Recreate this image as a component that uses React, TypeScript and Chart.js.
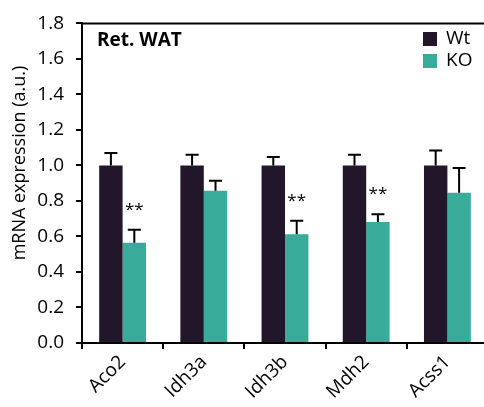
import React, { useEffect, useRef } from "react";
import { Chart, registerables } from "chart.js";
Chart.register(...registerables);

const categories = ["Aco2", "Idh3a", "Idh3b", "Mdh2", "Acss1"];
const wtValues = [1.0, 1.0, 1.0, 1.0, 1.0];
const wtErrors = [0.07, 0.06, 0.048, 0.06, 0.084];
const koValues = [0.565, 0.858, 0.612, 0.681, 0.846];
const koErrors = [0.073, 0.056, 0.076, 0.044, 0.14];
const koSignificance = ["**", "", "**", "**", ""];
const seriesNames = ["Wt", "KO"];
const yMin = 0;
const yMax = 1.8;
const yStep = 0.2;
const panelTitle = "Ret. WAT";
const yAxisTitle = "mRNA expression (a.u.)";

const WT_COLOR = "#22172a";
const KO_COLOR = "#38ab9b";
const FONT = "'Open Sans', sans-serif";

export default function App() {
  const ref = useRef<HTMLCanvasElement>(null);
  useEffect(() => {
    document.body.style.margin = "0";
    document.body.style.overflow = "hidden";
    const errs = [wtErrors, koErrors];
    const overlay = {
      id: "overlay",
      afterDatasetsDraw(chart: any) {
        const ctx = chart.ctx;
        const y = chart.scales.y;
        const area = chart.chartArea;
        ctx.save();
        // error bars
        chart.data.datasets.forEach((ds: any, di: number) => {
          const meta = chart.getDatasetMeta(di);
          meta.data.forEach((el: any, i: number) => {
            const v = ds.data[i];
            const top = y.getPixelForValue(v + errs[di][i]);
            ctx.strokeStyle = "#000";
            ctx.lineWidth = 2;
            ctx.beginPath();
            ctx.moveTo(el.x, el.y);
            ctx.lineTo(el.x, top);
            ctx.moveTo(el.x - 6.5, top);
            ctx.lineTo(el.x + 6.5, top);
            ctx.stroke();
            if (di === 1 && koSignificance[i]) {
              ctx.fillStyle = "#000";
              ctx.font = `17px ${FONT}`;
              ctx.textAlign = "center";
              ctx.textBaseline = "middle";
              ctx.fillText(koSignificance[i], el.x, top - 20);
            }
          });
        });
        // top border
        ctx.strokeStyle = "#000";
        ctx.lineWidth = 2;
        ctx.beginPath();
        ctx.moveTo(area.left - 1, area.top);
        ctx.lineTo(chart.width, area.top);
        ctx.stroke();
        // y axis title
        ctx.save();
        ctx.translate(20, 163);
        ctx.rotate(-Math.PI / 2);
        ctx.fillStyle = "#000";
        ctx.font = `18px ${FONT}`;
        ctx.textAlign = "center";
        ctx.textBaseline = "middle";
        ctx.fillText(yAxisTitle, 0, 0);
        ctx.restore();
        // panel title
        ctx.fillStyle = "#000";
        ctx.font = `bold 19px ${FONT}`;
        ctx.textAlign = "left";
        ctx.textBaseline = "alphabetic";
        ctx.fillText(panelTitle, 97, 46);
        // legend
        const colors = [WT_COLOR, KO_COLOR];
        seriesNames.forEach((name, i) => {
          const ly = 32 + i * 22;
          ctx.fillStyle = colors[i];
          ctx.fillRect(423, ly, 14, 14);
          ctx.fillStyle = "#000";
          ctx.font = `19px ${FONT}`;
          ctx.textBaseline = "middle";
          ctx.fillText(name, 446, ly + 7);
        });
        ctx.restore();
      },
    };
    const chart = new Chart(ref.current!, {
      type: "bar",
      data: {
        labels: categories,
        datasets: [
          { label: seriesNames[0], data: wtValues, backgroundColor: WT_COLOR },
          { label: seriesNames[1], data: koValues, backgroundColor: KO_COLOR },
        ],
      },
      options: {
        animation: false,
        responsive: false,
        events: [],
        layout: { padding: { top: 15, right: 4, left: 0, bottom: 0 } },
        datasets: { bar: { categoryPercentage: 0.577, barPercentage: 1.0 } },
        plugins: { legend: { display: false }, tooltip: { enabled: false } },
        scales: {
          x: {
            afterFit: (s: any) => { s.height = 64; },
            grid: {
              offset: true,
              drawOnChartArea: false,
              drawTicks: true,
              tickLength: 6,
              color: "#000",
              lineWidth: 2,
            },
            border: { display: true, color: "#000", width: 2 },
            ticks: {
              autoSkip: false,
              maxRotation: 45,
              minRotation: 45,
              color: "#000",
              padding: 2,
              font: { family: FONT, size: 19 },
            },
          },
          y: {
            min: yMin,
            max: yMax,
            afterFit: (s: any) => { s.width = 82; },
            grid: {
              drawOnChartArea: false,
              drawTicks: true,
              tickLength: 6,
              color: "#000",
              lineWidth: 2,
            },
            border: { display: true, color: "#000", width: 2 },
            ticks: {
              stepSize: yStep,
              color: "#000",
              padding: 12,
              font: { family: FONT, size: 19 },
              callback: (v: any) => Number(v).toFixed(1),
            },
          },
        },
      },
      plugins: [overlay],
    });
    return () => chart.destroy();
  }, []);
  return (
    <div style={{ width: 484, height: 407, overflow: "hidden" }}>
      <canvas ref={ref} width={492} height={407} style={{ display: "block" }} />
    </div>
  );
}
